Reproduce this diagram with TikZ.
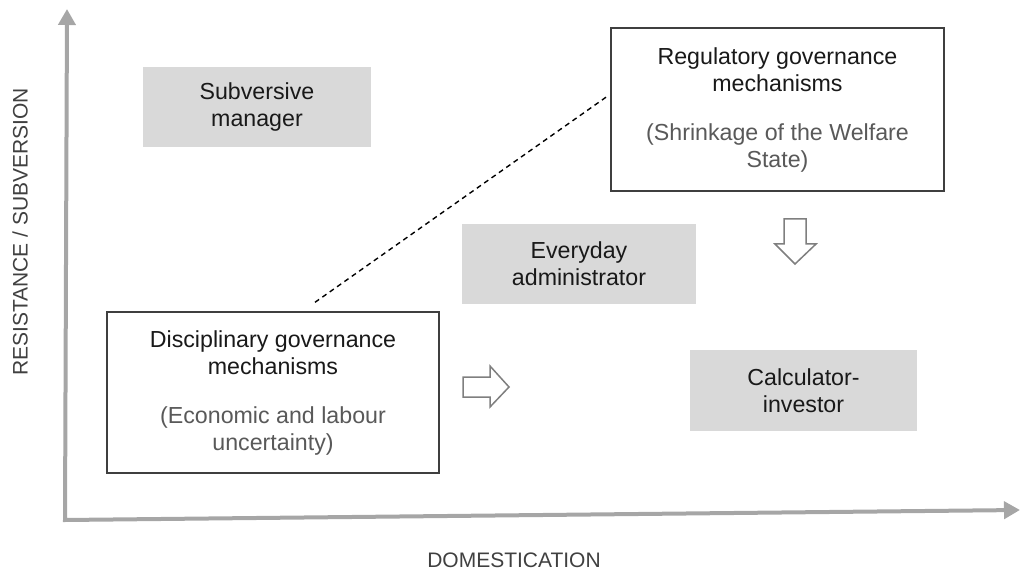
\documentclass[tikz,border=0pt]{standalone}
\usepackage{fontspec}
\setmainfont{Liberation Sans}
\usetikzlibrary{arrows.meta,calc}
\definecolor{axisgray}{HTML}{A6A6A6}
\definecolor{boxgray}{HTML}{D9D9D9}
\definecolor{subgray}{HTML}{595959}
\definecolor{labelgray}{HTML}{404040}
\definecolor{framegray}{HTML}{3F3F3F}
\definecolor{outlinegray}{HTML}{7F7F7F}

\begin{document}
\begin{tikzpicture}[x=1pt,y=-1pt,
  boxtext/.style={font=\fontsize{23.2}{27}\selectfont, text=black!90, align=center, inner sep=0pt},
  actor/.style={boxtext, fill=boxgray},
  mechanism/.style={boxtext, draw=framegray, line width=1.4pt, fill=white},
  axis/.style={draw=axisgray, line width=4pt, line join=miter,
    {Triangle[length=16pt,width=17pt]}-{Triangle[length=16pt,width=17pt]}},
  axislabel/.style={font=\fontsize{21}{24}\selectfont, text=labelgray},
  blockarrow/.style={draw=outlinegray, line width=1.5pt, fill=white, line join=miter},
  link/.style={draw=black, line width=1.4pt, dash pattern=on 5pt off 4pt},
]
\useasboundingbox (0,0) rectangle (1020,572);

% axes
\coordinate (ytop) at (67,9);
\coordinate (orig) at (65,520);
\coordinate (xend) at (1020,510);
\draw[axis] (ytop) -- (orig) -- (xend);

\node[axislabel, rotate=90] (ylab) at (20,232) {RESISTANCE / SUBVERSION};
\node[axislabel] (xlab) at (514,560) {DOMESTICATION};

% actor profiles
\node[actor, minimum width=228pt, minimum height=80pt] (subv) at (257,107)
  {Subversive\\manager};
\node[actor, minimum width=234pt, minimum height=80pt] (every) at (579,264)
  {Everyday\\administrator};
\node[actor, minimum width=227pt, minimum height=81pt] (calc) at (803.5,390.5)
  {Calculator-\\investor};

% governance mechanisms
\node[mechanism, minimum width=333pt, minimum height=163pt] (reg) at (777.5,109.5)
  {Regulatory governance\\mechanisms\\[22pt]
   \textcolor{subgray}{(Shrinkage of the Welfare}\\\textcolor{subgray}{State)}};
\node[mechanism, minimum width=332pt, minimum height=161pt] (disc) at (273,392.5)
  {Disciplinary governance\\mechanisms\\[22pt]
   \textcolor{subgray}{(Economic and labour}\\\textcolor{subgray}{uncertainty)}};

% dashed link between the two mechanisms
\coordinate (linkA) at ($(disc.north)+(42,-9)$);
\coordinate (linkB) at ($(reg.west)+(-4,-12.5)$);
\draw[link] (linkA) -- (linkB);

% block arrows
\draw[blockarrow] (463,377) -- (490,377) -- (490,366) -- (509,387) -- (490,407)
  -- (490,397) -- (463,397) -- cycle;
\draw[blockarrow] (784,219) -- (806,219) -- (806,244) -- (816,244) -- (795,264)
  -- (775,244) -- (784,244) -- cycle;
\end{tikzpicture}
\end{document}
